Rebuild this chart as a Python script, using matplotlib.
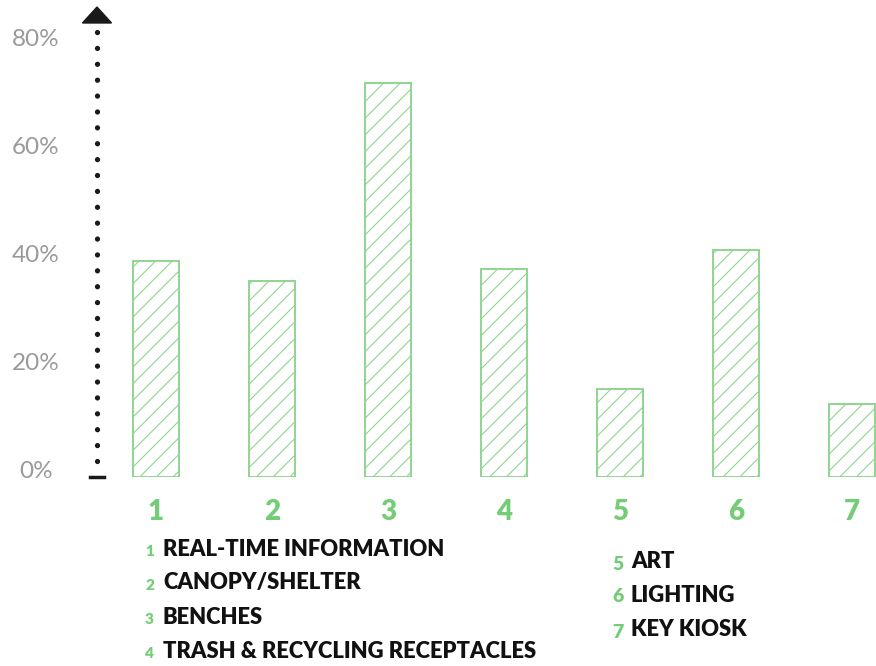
import matplotlib
matplotlib.use('Agg')
import matplotlib.pyplot as plt
from matplotlib.patches import Polygon
from matplotlib.transforms import ScaledTranslation

# survey share per amenity
cats = ['1', '2', '3', '4', '5', '6', '7']
values = [40.0, 36.3, 72.9, 38.5, 16.3, 42.0, 13.5]
names = ['REAL-TIME INFORMATION', 'CANOPY/SHELTER', 'BENCHES',
         'TRASH & RECYCLING RECEPTACLES', 'ART', 'LIGHTING', 'KEY KIOSK']
yticks = [0, 20, 40, 60, 80]
ytick_labels = ['0%', '20%', '40%', '60%', '80%']

green = '#74cc76'
edge = '#8fd590'
plt.rcParams['hatch.linewidth'] = 0.8
plt.rcParams['hatch.color'] = green

fig = plt.figure(figsize=(8.76, 6.66), dpi=100)
ax = fig.add_axes([97 / 876, 189 / 666, 779 / 876, 470 / 666])

x = list(range(len(cats)))
ax.bar(x, values, width=0.4, facecolor='white', edgecolor=edge,
       linewidth=1.4, hatch='//')

ax.set_xlim(-0.509, 6.207)
ax.set_ylim(0, 87)
for s in ax.spines.values():
    s.set_visible(False)

ax.set_xticks(x, cats)
ax.tick_params(axis='x', length=0, pad=16)
for lb in ax.get_xticklabels():
    lb.set_fontfamily(['Lato', 'DejaVu Sans'])
    lb.set_fontweight('heavy')
    lb.set_fontsize(20)
    lb.set_color(green)

ax.set_yticks(yticks, ytick_labels)
ax.tick_params(axis='y', length=0, pad=44)
off = ScaledTranslation(0, 0.07, fig.dpi_scale_trans)
for lb in ax.get_yticklabels():
    lb.set_fontfamily(['Lato', 'DejaVu Sans'])
    lb.set_fontweight('normal')
    lb.set_fontsize(17.5)
    lb.set_color('#9a9a9a')
    lb.set_horizontalalignment('center')
    lb.set_transform(lb.get_transform() + off)

# dotted axis with arrow head
ax.plot([0, 0], [0.035, 0.962], transform=ax.transAxes, color='#1a1a1a',
        lw=3.8, linestyle=(0, (0.01, 3.0)), dash_capstyle='round',
        clip_on=False)
ax.plot([-7 / 779, 7 / 779], [0, 0], transform=ax.transAxes, color='#1a1a1a',
        lw=2.5, clip_on=False)
ax.add_patch(Polygon([[-14.5 / 779, 0.966], [14.5 / 779, 0.966], [0, 1.0]],
                     closed=True, transform=ax.transAxes, color='#1a1a1a',
                     clip_on=False))

# legend block
left_rows = [549, 583, 618, 652]
right_rows = [562, 595, 630]
for i, yy in enumerate(left_rows):
    fig.text(145 / 876, 1 - (yy + 2) / 666, cats[i], color=green, fontsize=11,
             fontweight='heavy', family=['Lato', 'DejaVu Sans'], va='center')
    fig.text(163 / 876, 1 - yy / 666, names[i], color='#111111', fontsize=15.8,
             fontweight='heavy', family=['Lato', 'DejaVu Sans'], va='center')
for j, yy in enumerate(right_rows):
    i = j + 4
    fig.text(612 / 876, 1 - (yy + 2) / 666, cats[i], color=green, fontsize=14,
             fontweight='heavy', family=['Lato', 'DejaVu Sans'], va='center')
    fig.text(631 / 876, 1 - yy / 666, names[i], color='#111111', fontsize=15.8,
             fontweight='heavy', family=['Lato', 'DejaVu Sans'], va='center')

fig.savefig('out.png', dpi=100)
